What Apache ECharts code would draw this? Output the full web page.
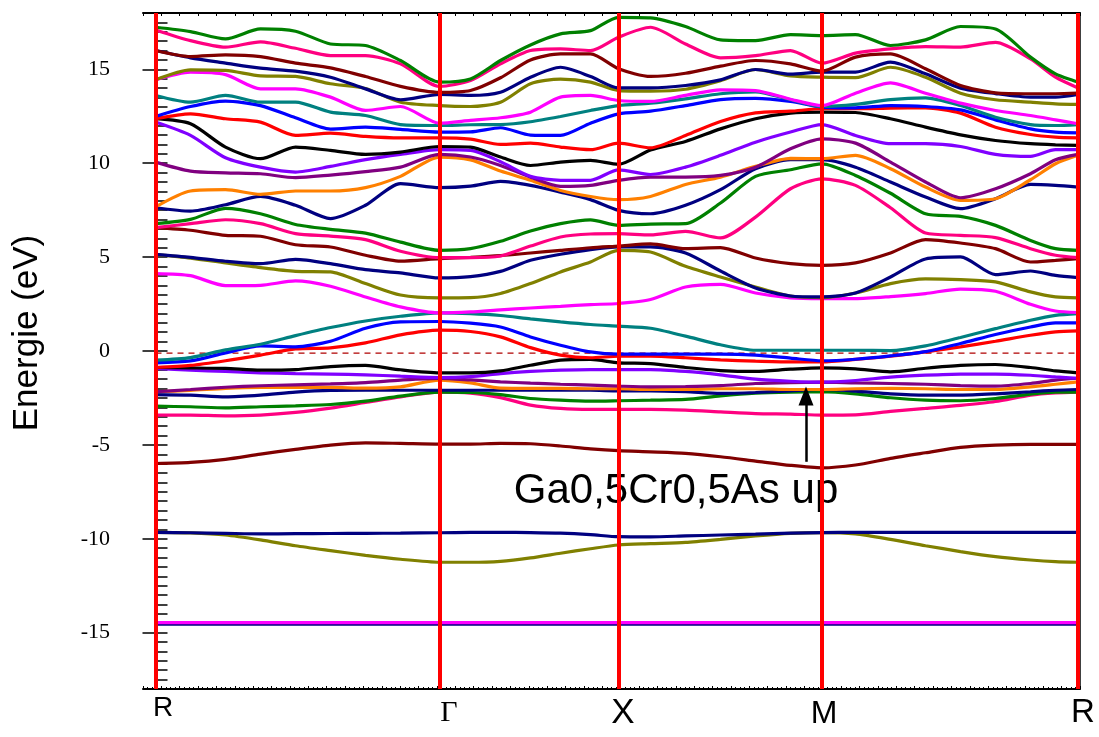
<!DOCTYPE html>
<html>
<head>
<meta charset="utf-8">
<script src="https://cdn.jsdelivr.net/npm/echarts@6/dist/echarts.min.js"></script>
<style>html,body{margin:0;padding:0;background:#fff}#c{width:1099px;height:737px}</style>
</head>
<body>
<div id="c"></div>
<script>
// k-path sampling positions (arbitrary path units) and high-symmetry points
const kGrid = [0, 35, 70, 105, 140, 175, 210, 245, 284, 315, 345, 375, 405, 435, 463, 495, 530, 565, 600, 635, 666.5, 700, 735, 770, 805, 840, 875, 900, 922.5];
const kTicks = [0, 284, 463, 666.5, 922.5];
const kLabels = ['R', 'Γ', 'X', 'M', 'R'];
const yTickLabels = [-15, -10, -5, 0, 5, 10, 15];
const fermiLevel = -0.11;

// bands, energies in eV (lowest first)
const bandA01 = [-14.55,-14.55,-14.55,-14.55,-14.55,-14.55,-14.55,-14.55,-14.55,-14.55,-14.55,-14.55,-14.55,-14.55,-14.55,-14.55,-14.55,-14.55,-14.55,-14.55,-14.55,-14.55,-14.55,-14.55,-14.55,-14.55,-14.55,-14.55,-14.55];
const bandA02 = [-14.47,-14.47,-14.47,-14.47,-14.47,-14.47,-14.47,-14.47,-14.47,-14.47,-14.47,-14.47,-14.47,-14.47,-14.47,-14.47,-14.47,-14.47,-14.47,-14.47,-14.47,-14.47,-14.47,-14.47,-14.47,-14.47,-14.47,-14.47,-14.47];
const bandA03 = [-9.66,-9.69,-9.80,-10.06,-10.37,-10.63,-10.88,-11.09,-11.25,-11.25,-11.20,-11.02,-10.77,-10.53,-10.33,-10.26,-10.19,-10.03,-9.85,-9.71,-9.67,-9.74,-10.03,-10.37,-10.68,-10.95,-11.13,-11.22,-11.25];
const bandA04 = [-9.66,-9.68,-9.71,-9.74,-9.73,-9.72,-9.71,-9.70,-9.68,-9.66,-9.66,-9.67,-9.70,-9.78,-9.89,-9.90,-9.85,-9.80,-9.75,-9.70,-9.67,-9.66,-9.66,-9.66,-9.66,-9.66,-9.66,-9.66,-9.66];
const bandA05 = [-5.99,-5.93,-5.77,-5.49,-5.24,-5.01,-4.89,-4.92,-4.96,-4.96,-4.92,-4.94,-5.06,-5.21,-5.31,-5.37,-5.45,-5.63,-5.86,-6.09,-6.22,-6.07,-5.72,-5.42,-5.13,-5.01,-4.97,-4.97,-4.97];
const bandA06 = [-3.41,-3.41,-3.45,-3.41,-3.27,-3.04,-2.74,-2.44,-2.19,-2.24,-2.48,-2.88,-3.06,-3.11,-3.11,-3.11,-3.15,-3.24,-3.33,-3.36,-3.41,-3.40,-3.22,-3.06,-2.90,-2.69,-2.35,-2.23,-2.19];
const bandA07 = [-2.94,-2.97,-3.03,-2.97,-2.92,-2.85,-2.67,-2.40,-2.19,-2.21,-2.32,-2.53,-2.62,-2.67,-2.65,-2.62,-2.58,-2.39,-2.25,-2.19,-2.17,-2.28,-2.49,-2.62,-2.65,-2.53,-2.30,-2.19,-2.19];
const bandA08 = [-2.32,-2.35,-2.44,-2.35,-2.19,-2.10,-2.09,-2.09,-2.09,-2.09,-2.09,-2.09,-2.09,-2.09,-2.12,-2.12,-2.17,-2.26,-2.21,-2.12,-2.05,-2.14,-2.28,-2.35,-2.35,-2.28,-2.17,-2.09,-2.05];
const bandA09 = [-2.17,-2.10,-1.99,-1.94,-1.94,-1.94,-1.98,-1.91,-1.55,-1.70,-1.98,-1.99,-1.99,-2.01,-2.01,-2.05,-2.05,-2.01,-2.01,-2.05,-2.05,-2.01,-1.99,-2.01,-2.05,-2.05,-1.91,-1.77,-1.64];
const bandA10 = [-2.17,-2.05,-1.93,-1.85,-1.80,-1.75,-1.68,-1.55,-1.46,-1.54,-1.64,-1.71,-1.77,-1.82,-1.87,-1.91,-1.89,-1.84,-1.73,-1.68,-1.66,-1.70,-1.73,-1.77,-1.84,-1.87,-1.73,-1.55,-1.45];
const bandA11 = [-0.93,-1.02,-1.09,-1.16,-1.20,-1.23,-1.27,-1.34,-1.41,-1.36,-1.20,-1.09,-1.02,-0.99,-0.99,-0.99,-1.09,-1.27,-1.50,-1.61,-1.66,-1.57,-1.39,-1.29,-1.23,-1.23,-1.29,-1.38,-1.45];
const bandA12 = [-0.88,-0.90,-0.93,-1.02,-0.99,-0.83,-0.77,-1.00,-1.16,-1.16,-1.06,-0.76,-0.49,-0.45,-0.63,-0.67,-0.88,-1.04,-1.09,-0.97,-0.90,-0.95,-1.11,-0.92,-0.77,-0.72,-0.88,-1.06,-1.16];
const bandA13 = [-0.88,-0.77,-0.52,-0.22,0.11,0.17,0.43,0.86,1.11,1.04,0.75,0.18,-0.22,-0.36,-0.28,-0.28,-0.36,-0.47,-0.54,-0.58,-0.58,-0.45,-0.28,-0.05,0.22,0.52,0.84,1.02,1.07];
const bandA14 = [-0.63,-0.53,-0.10,0.27,0.22,0.52,1.21,1.55,1.57,1.48,1.28,0.75,0.31,-0.05,-0.17,-0.17,-0.17,-0.17,-0.22,-0.38,-0.52,-0.44,-0.26,-0.03,0.40,0.88,1.28,1.50,1.50];
const bandA15 = [-0.49,-0.35,0.06,0.36,0.82,1.25,1.60,1.85,2.03,1.99,1.89,1.71,1.55,1.41,1.32,1.21,0.79,0.33,0.04,0.04,0.04,0.04,0.02,0.27,0.72,1.19,1.64,1.90,1.99];
const bandA16 = [4.12,4.01,3.48,3.50,3.73,3.45,2.88,2.35,2.03,2.08,2.19,2.29,2.38,2.47,2.53,2.74,3.41,3.55,3.09,2.83,2.79,2.79,2.90,3.06,3.30,3.18,2.49,2.13,2.05];
const bandA17 = [5.15,4.95,4.69,4.44,4.24,4.21,3.59,2.98,2.83,2.84,3.06,3.59,4.21,4.74,5.36,5.27,4.51,3.94,3.41,2.93,2.84,3.09,3.59,3.84,3.80,3.68,3.15,2.88,2.83];
const bandA18 = [5.15,4.99,4.78,4.65,4.88,4.65,4.33,4.16,3.89,3.96,4.24,4.83,5.15,5.40,5.54,5.54,5.22,4.26,3.36,2.93,2.88,3.09,3.94,4.90,5.01,4.07,4.26,4.03,3.91];
const bandA19 = [6.57,6.43,6.16,6.11,5.66,5.54,5.10,4.79,4.92,4.99,5.08,5.22,5.36,5.50,5.59,5.70,5.45,5.50,4.95,4.65,4.56,4.69,5.22,5.93,5.75,5.45,4.74,4.83,4.92];
const bandA20 = [6.57,6.78,6.99,6.78,6.25,6.12,5.93,5.31,4.97,4.97,5.06,5.59,6.07,6.23,6.25,6.18,6.37,6.02,7.13,8.64,9.17,8.82,7.63,6.28,6.16,6.04,5.45,5.10,4.97];
const bandA21 = [6.78,7.01,7.60,7.31,6.74,6.48,6.28,5.80,5.36,5.45,5.84,6.39,6.78,6.98,6.69,6.76,6.78,7.88,9.30,9.65,9.97,9.35,8.40,7.31,7.17,6.69,5.89,5.45,5.36];
const bandA22 = [7.63,7.45,7.79,8.23,7.76,7.05,7.76,8.91,8.70,8.78,9.03,8.82,8.46,8.06,7.49,7.31,7.76,8.59,9.71,10.19,10.19,9.79,9.00,8.20,7.58,8.11,8.87,8.82,8.73];
const bandA23 = [7.67,8.52,8.59,8.34,8.52,8.52,8.70,9.30,10.33,10.18,9.58,9.09,8.55,8.23,8.06,8.23,8.87,9.26,9.83,10.26,10.24,10.42,9.71,8.73,8.02,8.11,9.12,9.97,10.42];
const bandA24 = [10.06,9.58,9.49,9.44,9.23,9.37,9.55,9.79,10.47,10.33,9.88,9.26,8.77,8.82,9.09,9.26,9.26,9.35,9.79,10.77,11.30,11.07,10.06,9.00,8.16,8.64,9.44,10.18,10.47];
const bandA25 = [12.19,11.48,10.29,9.79,9.53,9.83,10.19,10.47,10.72,10.68,10.08,9.30,9.09,9.09,9.65,9.40,9.79,10.42,11.12,11.66,12.06,11.48,11.04,11.04,10.89,10.47,10.36,10.72,10.72];
const bandA26 = [12.37,12.10,10.86,10.24,10.86,10.68,10.47,10.59,10.89,10.86,10.33,9.88,10.06,10.15,9.94,10.70,11.16,11.83,12.37,12.67,12.72,12.70,12.37,11.92,11.51,11.21,11.04,10.98,10.95];
const bandA27 = [12.37,12.63,12.37,12.19,11.48,11.60,11.43,11.35,11.35,11.28,11.00,11.07,10.86,10.72,11.07,10.82,11.48,12.22,12.68,12.77,12.90,12.90,12.93,12.95,12.67,11.92,11.53,11.39,11.35];
const bandA28 = [12.49,13.02,13.31,13.07,12.42,11.82,11.92,11.80,11.66,11.67,11.89,11.50,11.48,12.13,12.63,12.77,13.07,13.39,13.45,13.29,12.99,12.95,13.07,13.02,12.84,12.31,11.83,11.66,11.62];
const bandA29 = [13.61,13.25,13.61,13.25,13.25,12.72,12.54,12.06,12.01,12.05,12.06,12.21,12.49,12.81,13.07,13.20,13.43,13.70,13.80,13.38,13.02,13.13,13.39,13.48,13.07,12.45,12.06,12.01,12.06];
const bandA30 = [14.44,14.85,14.72,13.96,13.96,13.52,12.81,13.02,12.13,12.28,12.42,12.72,13.52,13.61,13.34,13.29,13.61,13.91,13.87,13.41,13.07,13.73,14.28,13.73,13.20,12.81,12.54,12.31,12.10];
const bandA31 = [14.44,14.97,14.94,14.65,14.62,14.23,13.98,13.25,13.07,13.02,13.25,14.23,14.48,14.32,13.87,13.84,13.94,14.40,14.99,14.65,14.58,14.56,15.11,14.58,13.73,13.38,13.25,13.16,13.13];
const bandA32 = [16.00,15.61,15.33,15.06,14.90,14.58,13.96,13.38,13.66,13.61,13.78,14.58,15.11,14.62,14.01,14.01,14.14,14.44,14.99,14.74,14.85,14.85,15.38,14.76,14.00,13.71,13.52,13.52,13.66];
const bandA33 = [16.00,15.68,15.77,15.68,15.33,15.08,14.62,14.09,13.77,13.87,14.55,15.50,15.82,15.82,15.03,14.62,14.79,15.17,15.47,15.29,14.90,15.65,15.82,15.03,14.14,13.75,13.70,13.70,13.73];
const bandA34 = [17.10,16.53,16.18,16.46,16.12,15.73,15.73,15.29,14.09,14.40,15.29,16.00,16.09,16.00,16.71,17.24,16.35,15.61,15.73,16.00,15.33,15.86,16.09,16.21,16.18,16.44,15.56,14.58,14.01];
const bandA35 = [17.24,17.01,16.62,17.15,17.03,16.35,16.27,15.47,14.32,14.49,15.47,16.30,16.89,17.06,17.77,17.74,17.28,16.57,16.53,16.85,16.80,16.85,16.27,16.57,17.28,17.15,15.65,14.76,14.32];

const bands = [bandA01,bandA02,bandA03,bandA04,bandA05,bandA06,bandA07,bandA08,bandA09,bandA10,bandA11,bandA12,bandA13,bandA14,bandA15,bandA16,bandA17,bandA18,bandA19,bandA20,bandA21,bandA22,bandA23,bandA24,bandA25,bandA26,bandA27,bandA28,bandA29,bandA30,bandA31,bandA32,bandA33,bandA34,bandA35];
const bandColors = ['#000080','#ff00ff','#808000','#000080','#800000','#ff0080','#008000','#000080','#ff8000','#800080','#8000ff','#000000','#ff0000','#0000ff','#008080','#ff00ff','#808000','#000080','#800000','#ff0080','#008000','#000080','#ff8000','#800080','#8000ff','#000000','#ff0000','#0000ff','#008080','#ff00ff','#808000','#000080','#800000','#ff0080','#008000'];

const annotationText = 'Ga0,5Cr0,5As up';
const arrowK = 650.5, arrowFrom = -5.9, arrowTo = -2.4;

const chart = echarts.init(document.getElementById('c'), null, {renderer: 'canvas'});
const series = [];
series.push({
  type: 'line', name: 'EF', data: [[kTicks[0], fermiLevel], [kTicks[kTicks.length - 1], fermiLevel]],
  showSymbol: false, silent: true, z: 1,
  lineStyle: {color: '#b00000', width: 1.2, type: [6, 5]}
});
bands.forEach((b, i) => {
  series.push({
    type: 'line', data: kGrid.map((k, j) => [k, b[j]]), showSymbol: false, smooth: 0.25,
    silent: true, z: 2, lineStyle: {color: bandColors[i], width: 3.2}
  });
});
series.push({
  type: 'line', data: [], silent: true, z: 5,
  markLine: {
    silent: true, symbol: ['none', 'none'], label: {show: false}, animation: false,
    lineStyle: {color: '#ff0000', width: 4, type: 'solid'},
    emphasis: {disabled: true},
    data: kTicks.map(k => ({xAxis: k}))
  }
});
series.push({
  type: 'line', data: [], silent: true, z: 6,
  markLine: {
    silent: true, symbol: ['none', 'triangle'], symbolSize: [15, 19], label: {show: false}, animation: false,
    lineStyle: {color: '#000', width: 2.5, type: 'solid'},
    emphasis: {disabled: true},
    data: [[{coord: [arrowK, arrowFrom]}, {coord: [arrowK, arrowTo]}]]
  }
});

const rich = {
  s0: {fontFamily: 'Liberation Sans', fontSize: 28, lineHeight: 28, padding: [7, 0, 0, 15], color: '#000'},
  s1: {fontFamily: 'Liberation Serif', fontSize: 30, lineHeight: 30, padding: [14, 0, 0, 19], color: '#000'},
  s2: {fontFamily: 'Liberation Sans', fontSize: 35, lineHeight: 35, padding: [10, 0, 0, 9], color: '#000'},
  s3: {fontFamily: 'Liberation Sans', fontSize: 32, lineHeight: 32, padding: [15, 0, 0, 4], color: '#000'},
  s4: {fontFamily: 'Liberation Sans', fontSize: 33, lineHeight: 33, padding: [10, 0, 0, 10], color: '#000'}
};

const xRange = {min: -12.5, max: 924.5};
chart.setOption({
  animation: false,
  backgroundColor: '#fff',
  grid: {left: 143, right: 19, top: 13, bottom: 48, containLabel: false},
  xAxis: [
    {type: 'value', position: 'bottom', min: xRange.min, max: xRange.max, interval: 18.373,
     axisLine: {show: true, onZero: false, lineStyle: {color: '#000', width: 2}},
     axisTick: {show: true, inside: true, length: 3, lineStyle: {color: '#000', width: 1}},
     minorTick: {show: true, splitNumber: 4, length: 2, lineStyle: {color: '#000', width: 1}},
     splitLine: {show: false},
     axisLabel: {show: true, margin: 2, customValues: kTicks,
       formatter: v => { const i = kTicks.indexOf(v); return i < 0 ? '' : '{s' + i + '|' + kLabels[i] + '}'; },
       rich: rich}
    },
    {type: 'value', position: 'top', min: xRange.min, max: xRange.max, interval: 18.373,
     axisLine: {show: true, onZero: false, lineStyle: {color: '#000', width: 2}},
     axisTick: {show: true, inside: true, length: 3, lineStyle: {color: '#000', width: 1}},
     splitLine: {show: false}, axisLabel: {show: false}
    }
  ],
  yAxis: [
    {type: 'value', position: 'left', min: -18, max: 18, interval: 0.5,
     axisLine: {show: false},
     axisTick: {show: true, inside: true, length: 12, lineStyle: {color: '#000', width: 1.5}},
     splitLine: {show: false},
     axisLabel: {show: true, margin: 33, color: '#000', fontFamily: 'Liberation Serif', fontSize: 22,
       formatter: v => (yTickLabels.indexOf(v) >= 0 ? String(v) : '')}
    },
    {type: 'value', position: 'left', min: -18, max: 18,
     axisLine: {show: false},
     axisTick: {show: true, inside: false, length: 13, customValues: yTickLabels, lineStyle: {color: '#000', width: 1.5}},
     splitLine: {show: false}, axisLabel: {show: false}
    },
    {type: 'value', position: 'right', min: -18, max: 18,
     axisLine: {show: true, onZero: false, lineStyle: {color: '#000', width: 1.5}},
     axisTick: {show: false}, splitLine: {show: false}, axisLabel: {show: false}
    }
  ],
  graphic: [
    {type: 'text', x: 27, y: 333, rotation: Math.PI / 2,
     style: {text: 'Energie (eV)', font: '35px "Liberation Sans"', fill: '#000', textAlign: 'center', textVerticalAlign: 'middle'}},
    {type: 'text', x: 676, y: 491,
     style: {text: annotationText, font: '42px "Liberation Sans"', fill: '#000', textAlign: 'center', textVerticalAlign: 'middle'}}
  ],
  series: series
});
</script>
</body>
</html>
